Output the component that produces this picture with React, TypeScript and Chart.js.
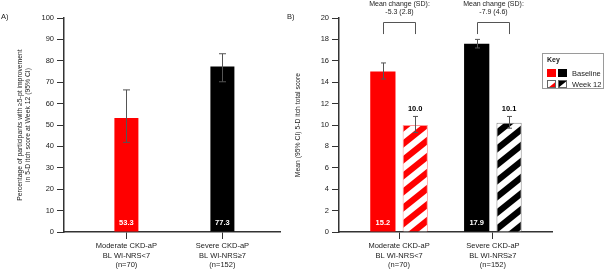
import React, { useEffect, useRef } from 'react';
import { Chart, registerables } from 'chart.js';

Chart.register(...registerables);

// ---------- data ----------
const groupLabels = [
  ['Moderate CKD-aP', 'BL WI-NRS<7', '(n=70)'],
  ['Severe CKD-aP', 'BL WI-NRS≥7', '(n=152)'],
];

// Panel A: % with >=5-pt improvement at week 12
const pctImproved = [53.3, 77.3];
const pctLow = [41.9, 70.2];
const pctHigh = [66.4, 83.3];
const pctLabels = ['53.3', '77.3'];

// Panel B: mean 5-D itch total score
const baselineMean = [15.0, 17.6];
const baselineLow = [14.3, 17.2];
const baselineHigh = [15.8, 18.0];
const baselineLabels = ['15.2', '17.9'];
const week12Mean = [10.0, 10.2];
const week12Low = [9.3, 9.7];
const week12High = [10.8, 10.8];
const week12Labels = ['10.0', '10.1'];
const meanChangeLabels = ['-5.3 (2.8)', '-7.9 (4.6)'];
const bracketTop = 19.6;
const bracketBottom = 18.5;

const seriesNames = ['Baseline', 'Week 12'];

// ---------- styles ----------
const FONT = "'Liberation Sans', Arial, Helvetica, sans-serif";
const TEXT = '#222222';
const AXIS = '#333333';
const RED = '#ff0000';
const BLACK = '#000000';
const ERR = '#555555';

function makeStripes(color: string): CanvasPattern | string {
  const w = 20;
  const h = 16;
  const c = document.createElement('canvas');
  c.width = w;
  c.height = h;
  const g = c.getContext('2d');
  if (!g) return color;
  g.fillStyle = '#ffffff';
  g.fillRect(0, 0, w, h);
  g.strokeStyle = color;
  g.lineCap = 'butt';
  g.lineWidth = (w * h) / Math.sqrt(w * w + h * h) / 2;
  for (let k = -2; k <= 2; k++) {
    g.beginPath();
    g.moveTo(k * w - w, 2 * h);
    g.lineTo(k * w + 2 * w, -h);
    g.stroke();
  }
  const p = g.createPattern(c, 'repeat');
  return p || color;
}

function drawErrorBars(chart: any, di: number, lows: number[], highs: number[], cap: number) {
  const ctx = chart.ctx;
  const ys = chart.scales.y;
  const meta = chart.getDatasetMeta(di);
  ctx.save();
  ctx.strokeStyle = ERR;
  ctx.lineWidth = 1;
  meta.data.forEach((bar: any, i: number) => {
    const x = Math.round(bar.x) + 0.5;
    const yl = ys.getPixelForValue(lows[i]);
    const yh = ys.getPixelForValue(highs[i]);
    ctx.beginPath();
    ctx.moveTo(x, yl);
    ctx.lineTo(x, yh);
    ctx.moveTo(x - cap, yl);
    ctx.lineTo(x + cap, yl);
    ctx.moveTo(x - cap, yh);
    ctx.lineTo(x + cap, yh);
    ctx.stroke();
  });
  ctx.restore();
}

function panelLetter(chart: any, text: string, x: number) {
  const ctx = chart.ctx;
  ctx.save();
  ctx.fillStyle = TEXT;
  ctx.font = `7.5px ${FONT}`;
  ctx.textAlign = 'left';
  ctx.textBaseline = 'middle';
  ctx.fillText(text, x, 17);
  ctx.restore();
}

const xAxis = (min: number, max: number) => ({
  type: 'linear' as const,
  min,
  max,
  offset: false,
  afterBuildTicks: (s: any) => {
    s.ticks = groupLabels.map((_, i) => ({ value: i }));
  },
  afterFit: (s: any) => {
    s.height = 38;
  },
  grid: {
    offset: false,
    drawOnChartArea: false,
    tickLength: 7,
    color: AXIS,
    tickColor: AXIS,
    lineWidth: 1,
  },
  border: { color: AXIS, width: 1.5 },
  ticks: {
    autoSkip: false,
    maxRotation: 0,
    padding: 2,
    color: TEXT,
    font: { family: FONT, size: 7.5, lineHeight: 1.3 },
    callback: (v: any) => groupLabels[v] ?? '',
  },
});

const yAxis = (max: number, step: number, width: number, title: string | string[], titlePad: number) => ({
  min: 0,
  max,
  afterFit: (s: any) => {
    s.width = width;
  },
  grid: {
    drawOnChartArea: false,
    tickLength: 7,
    color: AXIS,
    tickColor: AXIS,
    lineWidth: 1,
  },
  border: { color: AXIS, width: 1.5 },
  ticks: {
    stepSize: step,
    padding: 3,
    color: TEXT,
    font: { family: FONT, size: 7.5 },
  },
  title: {
    display: true,
    text: title,
    color: TEXT,
    padding: { top: titlePad, bottom: 0 },
    font: { family: FONT, size: 6.8, lineHeight: 1.2 },
  },
});

function PanelA() {
  const ref = useRef<HTMLCanvasElement>(null);
  useEffect(() => {
    if (!ref.current) return;
    const plugin = {
      id: 'panelA',
      afterDatasetsDraw(chart: any) {
        drawErrorBars(chart, 0, pctLow, pctHigh, 3.5);
        const ctx = chart.ctx;
        const ys = chart.scales.y;
        const meta = chart.getDatasetMeta(0);
        ctx.save();
        ctx.fillStyle = '#ffffff';
        ctx.font = `bold 7.5px ${FONT}`;
        ctx.textAlign = 'center';
        ctx.textBaseline = 'middle';
        meta.data.forEach((bar: any, i: number) => {
          ctx.fillText(pctLabels[i], bar.x, ys.getPixelForValue(0) - 9);
        });
        ctx.restore();
        panelLetter(chart, 'A)', 1);
      },
    };
    const chart = new Chart(ref.current, {
      type: 'bar',
      data: {
        datasets: [
          {
            data: pctImproved.map((y, i) => ({ x: i, y })),
            backgroundColor: [RED, BLACK],
            borderWidth: 0,
            categoryPercentage: 0.25,
            barPercentage: 1,
          },
        ],
      },
      options: {
        animation: false,
        responsive: false,
        layout: { padding: { top: 18, right: 3, left: 0, bottom: 0 } },
        plugins: { legend: { display: false }, tooltip: { enabled: false } },
        scales: {
          x: xAxis(-0.65, 1.6) as any,
          y: yAxis(100, 10, 64, [
            'Percentage of participants with ≥5-pt improvement',
            'in 5-D itch score at Week 12 (95% CI)',
          ], 16) as any,
        },
      },
      plugins: [plugin],
    });
    return () => chart.destroy();
  }, []);
  return (
    <canvas
      ref={ref}
      width={283}
      height={270}
      style={{ position: 'absolute', left: 0, top: 0, width: 283, height: 270 }}
    />
  );
}

function PanelB() {
  const ref = useRef<HTMLCanvasElement>(null);
  useEffect(() => {
    if (!ref.current) return;
    const redStripes = makeStripes(RED);
    const blackStripes = makeStripes(BLACK);
    const plugin = {
      id: 'panelB',
      afterDatasetsDraw(chart: any) {
        drawErrorBars(chart, 0, baselineLow, baselineHigh, 2.5);
        drawErrorBars(chart, 1, week12Low, week12High, 2.5);
        const ctx = chart.ctx;
        const ys = chart.scales.y;
        const m0 = chart.getDatasetMeta(0);
        const m1 = chart.getDatasetMeta(1);
        ctx.save();
        ctx.textAlign = 'center';
        ctx.textBaseline = 'middle';
        ctx.font = `bold 7.5px ${FONT}`;
        m0.data.forEach((bar: any, i: number) => {
          ctx.fillStyle = '#ffffff';
          ctx.fillText(baselineLabels[i], bar.x, ys.getPixelForValue(0) - 9);
        });
        m1.data.forEach((bar: any, i: number) => {
          ctx.fillStyle = '#000000';
          ctx.fillText(week12Labels[i], bar.x, ys.getPixelForValue(week12High[i]) - 8);
        });
        // brackets
        const yt = Math.round(ys.getPixelForValue(bracketTop)) + 0.5;
        const yb = ys.getPixelForValue(bracketBottom);
        ctx.strokeStyle = ERR;
        ctx.lineWidth = 1;
        m0.data.forEach((bar: any, i: number) => {
          const x0 = Math.round(bar.x) + 0.5;
          const x1 = Math.round(m1.data[i].x) + 0.5;
          ctx.beginPath();
          ctx.moveTo(x0, yb);
          ctx.lineTo(x0, yt);
          ctx.lineTo(x1, yt);
          ctx.lineTo(x1, yb);
          ctx.stroke();
          const cx = (x0 + x1) / 2;
          ctx.fillStyle = TEXT;
          ctx.font = `7px ${FONT}`;
          ctx.fillText('Mean change (SD):', cx, yt - 18.5);
          ctx.fillText(meanChangeLabels[i], cx, yt - 10);
        });
        ctx.restore();

        // legend / key
        ctx.save();
        const lx = 259;
        const ly = 53;
        ctx.strokeStyle = '#9a9a9a';
        ctx.lineWidth = 1;
        ctx.strokeRect(lx + 0.5, ly + 0.5, 61, 35);
        ctx.fillStyle = TEXT;
        ctx.textAlign = 'left';
        ctx.textBaseline = 'middle';
        ctx.font = `bold 7px ${FONT}`;
        ctx.fillText('Key', lx + 5, ly + 7.5);
        ctx.font = `7.5px ${FONT}`;
        const rows = [
          { fills: [RED, BLACK], y: ly + 16 },
          { fills: [redStripes, blackStripes], y: ly + 27 },
        ];
        rows.forEach((r, ri) => {
          r.fills.forEach((f: any, k: number) => {
            ctx.fillStyle = f;
            ctx.fillRect(lx + 5 + k * 11, r.y, 9, 8);
          });
          ctx.strokeStyle = '#666';
          if (ri === 1) {
            ctx.strokeRect(lx + 5.5, r.y + 0.5, 8, 7);
            ctx.strokeRect(lx + 16.5, r.y + 0.5, 8, 7);
          }
          ctx.fillStyle = TEXT;
          ctx.fillText(seriesNames[ri], lx + 30, r.y + 4.5);
        });
        ctx.restore();
        panelLetter(chart, 'B)', 4);
      },
    };
    const chart = new Chart(ref.current, {
      type: 'bar',
      data: {
        datasets: [
          {
            label: seriesNames[0],
            data: baselineMean.map((y, i) => ({ x: i, y })),
            backgroundColor: [RED, BLACK],
            borderWidth: 0,
            categoryPercentage: 0.69,
            barPercentage: 0.78,
          },
          {
            label: seriesNames[1],
            data: week12Mean.map((y, i) => ({ x: i, y })),
            backgroundColor: [redStripes, blackStripes] as any,
            borderColor: ['rgba(255,80,80,0.6)', '#888888'],
            borderWidth: 1,
            borderSkipped: 'start',
            categoryPercentage: 0.69,
            barPercentage: 0.78,
          },
        ],
      },
      options: {
        animation: false,
        responsive: false,
        layout: { padding: { top: 18, right: 54, left: 0, bottom: 0 } },
        plugins: { legend: { display: false }, tooltip: { enabled: false } },
        scales: {
          x: xAxis(-0.64, 1.63) as any,
          y: yAxis(20, 2, 56, 'Mean (95% CI) 5-D itch total score', 11) as any,
        },
      },
      plugins: [plugin],
    });
    return () => chart.destroy();
  }, []);
  return (
    <canvas
      ref={ref}
      width={323}
      height={270}
      style={{ position: 'absolute', left: 283, top: 0, width: 323, height: 270 }}
    />
  );
}

export default function App() {
  return (
    <div
      style={{
        position: 'absolute',
        left: 0,
        top: 0,
        width: 606,
        height: 270,
        background: '#ffffff',
        overflow: 'hidden',
      }}
    >
      <PanelA />
      <PanelB />
    </div>
  );
}
